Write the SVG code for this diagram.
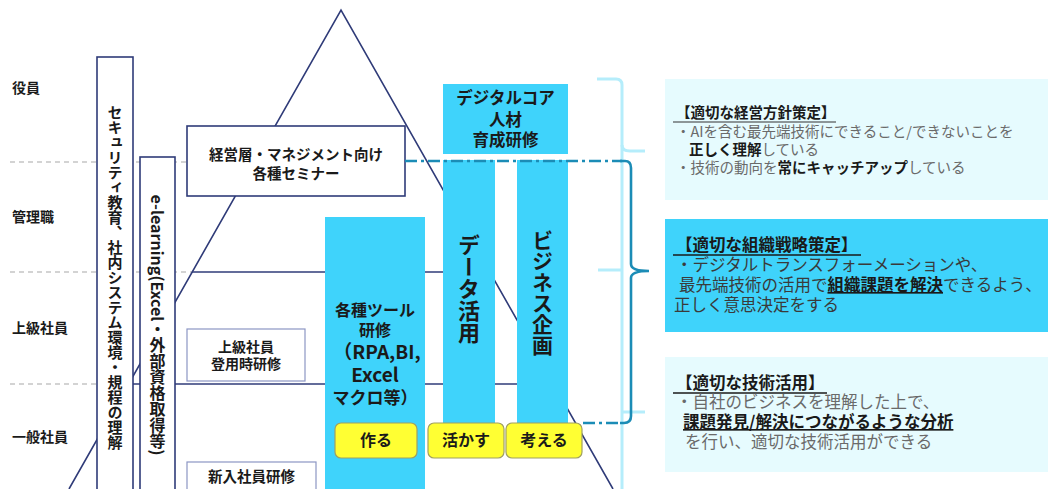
<svg xmlns="http://www.w3.org/2000/svg" width="1048" height="489" viewBox="0 0 1048 489">
<style>
text { font-family: "Noto Sans CJK JP", "Noto Sans", sans-serif; }
.lbl { font-size: 14px; font-weight: 700; fill: #1a1a1a; }
.bx { fill: #ffffff; stroke: #2f3b78; stroke-width: 1.6; }
.bxl { fill: #ffffff; stroke: #8c96c4; stroke-width: 1.2; }
.cy { fill: #3fd3fb; }
.yl { fill: #ffff33; stroke: #a0a060; stroke-width: 1.2; }
.t { font-weight: 700; fill: #1a1a1a; text-anchor: middle; }
.v { writing-mode: vertical-rl; text-orientation: mixed; }
.pl { stroke: #2f3b78; stroke-width: 1.6; fill: none; }
.gd { stroke: #a8a8a8; stroke-width: 1.2; stroke-dasharray: 5 4; fill: none; }
.dd { stroke: #1b8cb6; stroke-width: 2.6; stroke-dasharray: 12 4 3 4; fill: none; }
.br { stroke: #1b8cb6; stroke-width: 2.6; fill: none; }
.lb { stroke: #b5edfb; stroke-width: 3; fill: none; }
.pg { font-size: 14.5px; fill: #6a6a6a; }
.p2 { font-size: 16.5px; fill: #3a3a3a; }
.p3 { font-size: 16.5px; fill: #6a6a6a; }
.hd { font-weight: 700; fill: #1a1a1a; }
.u { text-decoration: underline; }
</style>

<g id="level-labels">
  <text class="lbl" x="12" y="93">役員</text>
  <text class="lbl" x="12" y="222">管理職</text>
  <text class="lbl" x="12" y="333">上級社員</text>
  <text class="lbl" x="12" y="442">一般社員</text>
</g>

<g id="guides">
  <line class="gd" x1="10" y1="162" x2="255" y2="162"/>
  <line class="gd" x1="10" y1="272" x2="192" y2="272"/>
  <line class="gd" x1="10" y1="384" x2="129" y2="384"/>
</g>

<g id="pyramid">
  <path class="pl" d="M69,489 L341,10 L613,489"/>
  <line class="pl" x1="192" y1="272" x2="489" y2="272"/>
  <line class="pl" x1="129" y1="384" x2="552" y2="384"/>
</g>

<g id="security">
  <rect class="bx" x="97" y="57" width="36" height="440"/>
  <text class="t v" x="115" y="277" font-size="15">セキュリティ教育、社内システム環境・規程の理解</text>
</g>

<g id="elearning">
  <rect class="bx" x="140" y="157" width="35" height="340"/>
  <text class="t v" x="157.5" y="325" font-size="16">e-learning(Excel・外部資格取得等)</text>
</g>

<g id="seminar">
  <rect class="bx" x="187" y="126" width="218" height="70"/>
  <text class="t" x="296" y="160" font-size="14.5">経営層・マネジメント向け</text>
  <text class="t" x="296" y="179" font-size="14.5">各種セミナー</text>
</g>

<g id="senior-training">
  <rect class="bxl" x="187" y="329" width="118" height="52"/>
  <text class="t" x="246" y="352" font-size="14">上級社員</text>
  <text class="t" x="246" y="369" font-size="14">登用時研修</text>
</g>

<g id="newcomer-training">
  <rect class="bxl" x="187" y="462" width="129" height="40"/>
  <text class="t" x="251.5" y="482" font-size="14.5">新入社員研修</text>
</g>

<g id="tool-training">
  <rect class="cy" x="325" y="217" width="100" height="280"/>
  <text class="t" x="375" y="316" font-size="16">各種ツール</text>
  <text class="t" x="375" y="336" font-size="16">研修</text>
  <text class="t" x="377" y="359" font-size="19">（RPA,BI,</text>
  <text class="t" x="375" y="382" font-size="19">Excel</text>
  <text class="t" x="375" y="404" font-size="17">マクロ等）</text>
</g>

<g id="digital-core">
  <rect class="cy" x="443" y="84" width="125" height="70"/>
  <text class="t" x="505.5" y="104" font-size="16.5">デジタルコア</text>
  <text class="t" x="505.5" y="126" font-size="16.5">人材</text>
  <text class="t" x="505.5" y="146" font-size="16.5">育成研修</text>
</g>

<g id="data-use">
  <rect class="cy" x="443" y="160" width="52" height="265"/>
  <text class="t v" x="469" y="289" font-size="22">データ活用</text>
</g>

<g id="business-plan">
  <rect class="cy" x="517" y="160" width="51" height="265"/>
  <text class="t v" x="542.5" y="293" font-size="21">ビジネス企画</text>
</g>

<g id="connectors">
  <path class="lb" d="M597,79 H616 Q622,79 622,85 V489"/>
  <path class="lb" d="M622,145 Q622,151 630,151 H645"/>
  <line class="lb" x1="598" y1="270" x2="622" y2="270"/>
  <line class="lb" x1="622" y1="412" x2="645" y2="412"/>
  <line class="dd" x1="405" y1="161" x2="622" y2="161"/>
  <line class="dd" x1="583" y1="423" x2="622" y2="423"/>
  <path class="br" d="M620,161 H625 Q631,161 631,168 V264 Q631,271 649,271 Q631,271 631,278 V416 Q631,423 624,423 H620"/>
</g>

<g id="make">
  <rect class="yl" x="335" y="423" width="82" height="35" rx="6"/>
  <text class="t" x="376" y="446" font-size="16">作る</text>
</g>
<g id="apply">
  <rect class="yl" x="428" y="423" width="76" height="35" rx="6"/>
  <text class="t" x="466" y="446" font-size="16">活かす</text>
</g>
<g id="think">
  <rect class="yl" x="506" y="423" width="76" height="35" rx="6"/>
  <text class="t" x="544" y="446" font-size="16">考える</text>
</g>

<g id="panel-management">
  <rect x="665" y="79" width="383" height="121" fill="#e6fbfe"/>
  <text class="pg hd" x="676" y="118">【適切な経営方針策定】</text>
  <line x1="673" y1="122" x2="836" y2="122" stroke="#333" stroke-width="1.2"/>
  <text class="pg" x="676" y="137">・AIを含む最先端技術にできること/できないことを</text>
  <text class="pg" x="689" y="155"><tspan class="hd">正しく理解</tspan>している</text>
  <text class="pg" x="676" y="173">・技術の動向を<tspan class="hd">常にキャッチアップ</tspan>している</text>
</g>

<g id="panel-organization">
  <rect class="cy" x="665" y="219" width="383" height="113"/>
  <text class="p2 hd" x="676" y="251">【適切な組織戦略策定】</text>
  <line x1="673" y1="255" x2="861" y2="255" stroke="#1a1a1a" stroke-width="1.3"/>
  <text class="p2" x="676" y="271">・デジタルトランスフォーメーションや、</text>
  <text class="p2" x="679" y="291">最先端技術の活用で<tspan class="hd u">組織課題を解決</tspan>できるよう、</text>
  <text class="p2" x="674" y="311">正しく意思決定をする</text>
</g>

<g id="panel-technology">
  <rect x="665" y="357" width="383" height="115" fill="#e6fbfe"/>
  <text class="p3 hd" x="676" y="389">【適切な技術活用】</text>
  <line x1="673" y1="393" x2="827" y2="393" stroke="#1a1a1a" stroke-width="1.3"/>
  <text class="p3" x="676" y="408">・自社のビジネスを理解した上で、</text>
  <text class="p3 hd u" x="683" y="428">課題発見/解決につながるような分析</text>
  <text class="p3" x="685" y="448">を行い、適切な技術活用ができる</text>
</g>
</svg>
